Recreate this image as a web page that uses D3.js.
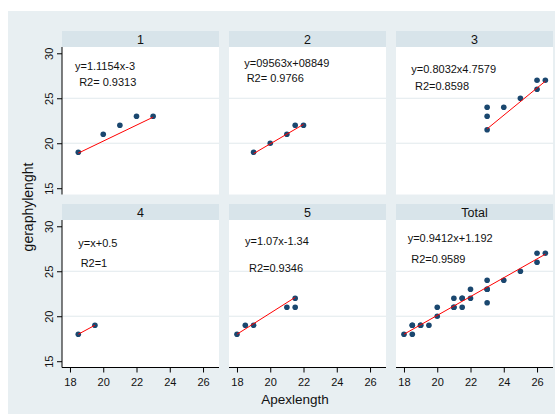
<!DOCTYPE html>
<html>
<head>
<meta charset="utf-8">
<script src="https://cdn.jsdelivr.net/npm/d3@7"></script>
<style>
    body { margin: 0; background: #ffffff; }
    text { font-family: "Liberation Sans", Arial, sans-serif; fill: #111; }
</style>
</head>
<body>
<div id="chart"></div>
<script>
// panel names (by group) and the values
const panelNames = ["1", "2", "3", "4", "5", "Total"];
const apex = [
    [18.5, 20, 21, 22, 23],
    [19, 20, 21, 21.5, 22],
    [23, 23, 23, 24, 25, 26, 26, 26.5],
    [18.5, 19.5],
    [18, 18.5, 19, 21, 21.5, 21.5]
];
const gera = [
    [19, 21, 22, 23, 23],
    [19, 20, 21, 22, 22],
    [24, 23, 21.5, 24, 25, 27, 26, 27],
    [18, 19],
    [18, 19, 19, 21, 21, 22]
];
// fitted line ends [apex, gera]
const fitStart = [[18.5, 18.9], [19, 18.85], [23, 21.6], [18.5, 18], [18, 18], [18, 18]];
const fitEnd = [[23, 22.9], [22, 22.1], [26.5, 26.9], [19.5, 19], [21.5, 22.1], [26.5, 26.9]];
// annotation text and where it sits, in data units
const eqLabels = ["y=1.1154x-3", "y=09563x+08849", "y=0.8032x4.7579", "y=x+0.5", "y=1.07x-1.34", "y=0.9412x+1.192"];
const r2Labels = ["R2= 0.9313", "R2= 0.9766", "R2=0.8598", "R2=1", "R2=0.9346", "R2=0.9589"];
const eqPos = [[18.3, 28.6], [18.44, 28.93], [18.44, 28.27], [18.5, 28.1], [18.48, 28.4], [18.22, 28.67]];
const r2Pos = [[18.55, 26.8], [18.58, 27.2], [18.66, 26.4], [18.64, 25.9], [18.72, 25.37], [18.44, 26.4]];
const xTicks = [18, 20, 22, 24, 26];
const yTicks = [15, 20, 25, 30];

function drawChart() {
    const W = 555, H = 414;
    const panelW = 157, colStep = 167, left0 = 62;
    const stripH = 16, plotH = 147.5, top0 = 31, rowStep = 173;

    const svg = d3.select("#chart")
        .append("svg")
        .attr("width", W)
        .attr("height", H);

    svg.append("rect")
        .attr("x", 8).attr("y", 11)
        .attr("width", W - 8).attr("height", H - 11)
        .attr("fill", "#e8eff2");

    const x = d3.scaleLinear().domain([17.52, 26.96]).range([0, panelW]);
    const y = d3.scaleLinear().domain([14.3, 30.7]).range([plotH, 0]);

    // total panel = every point together
    const allApex = apex.flat();
    const allGera = gera.flat();

    panelNames.forEach((name, i) => {
        const col = i % 3, row = Math.floor(i / 3);
        const px = left0 + col * colStep;
        const py = top0 + row * rowStep;

        const g = svg.append("g").attr("transform", `translate(${px}, ${py})`);

        // strip
        g.append("rect")
            .attr("width", panelW).attr("height", stripH)
            .attr("fill", "#d8e4ea");
        g.append("text")
            .attr("x", panelW / 2).attr("y", stripH / 2 + 4.5)
            .attr("text-anchor", "middle")
            .style("font-size", "12.5px")
            .text(name);

        const p = g.append("g").attr("transform", `translate(0, ${stripH})`);
        p.append("rect")
            .attr("width", panelW).attr("height", plotH)
            .attr("fill", "#ffffff");

        // grid
        p.selectAll(".grid")
            .data([20, 25])
            .enter().append("line")
            .attr("x1", 0).attr("x2", panelW)
            .attr("y1", d => y(d)).attr("y2", d => y(d))
            .attr("stroke", "#e1e9ed")
            .attr("stroke-width", 1);

        const xs = i < 5 ? apex[i] : allApex;
        const ys = i < 5 ? gera[i] : allGera;
        const pts = xs.map((v, k) => [v, ys[k]]);

        p.selectAll(".dot")
            .data(pts)
            .enter().append("circle")
            .attr("cx", d => x(d[0]))
            .attr("cy", d => y(d[1]))
            .attr("r", 2.8)
            .attr("fill", "#1a476f");

        p.append("line")
            .attr("x1", x(fitStart[i][0])).attr("y1", y(fitStart[i][1]))
            .attr("x2", x(fitEnd[i][0])).attr("y2", y(fitEnd[i][1]))
            .attr("stroke", "#ff0000")
            .attr("stroke-width", 1);

        p.append("text")
            .attr("x", x(eqPos[i][0])).attr("y", y(eqPos[i][1]) + 4)
            .style("font-size", "11px")
            .text(eqLabels[i]);
        p.append("text")
            .attr("x", x(r2Pos[i][0])).attr("y", y(r2Pos[i][1]) + 4)
            .style("font-size", "11px")
            .text(r2Labels[i]);

        // y axis on the left column
        if (col === 0) {
            const ya = p.append("g")
                .call(d3.axisLeft(y).tickValues(yTicks).tickSize(5).tickFormat(d3.format("d")));
            ya.select(".domain").attr("d", `M0,0V${plotH}`).attr("stroke", "#000");
            ya.selectAll(".tick line").attr("stroke", "#000");
            ya.selectAll(".tick text")
                .attr("x", null).attr("dy", null)
                .attr("text-anchor", "middle")
                .attr("transform", "translate(-9, 0) rotate(-90)")
                .style("font-size", "11px")
                .style("font-family", "'Liberation Sans', Arial, sans-serif");
        }

        // x axis on the bottom row
        if (row === 1) {
            const xa = p.append("g")
                .attr("transform", `translate(0, ${plotH})`)
                .call(d3.axisBottom(x).tickValues(xTicks).tickSize(5).tickFormat(d3.format("d")));
            xa.select(".domain").attr("d", `M0,0H${panelW}`).attr("stroke", "#000");
            xa.selectAll(".tick line").attr("stroke", "#000");
            xa.selectAll(".tick text")
                .attr("y", 18).attr("dy", null)
                .style("font-size", "11px")
                .style("font-family", "'Liberation Sans', Arial, sans-serif");
        }
    });

    svg.append("text")
        .attr("x", 295).attr("y", 404)
        .attr("text-anchor", "middle")
        .style("font-size", "13.5px")
        .text("Apexlength");

    svg.append("text")
        .attr("transform", "translate(33, 207) rotate(-90)")
        .attr("text-anchor", "middle")
        .style("font-size", "14px")
        .text("geraphylenght");
}

document.addEventListener("DOMContentLoaded", drawChart);
</script>
</body>
</html>
